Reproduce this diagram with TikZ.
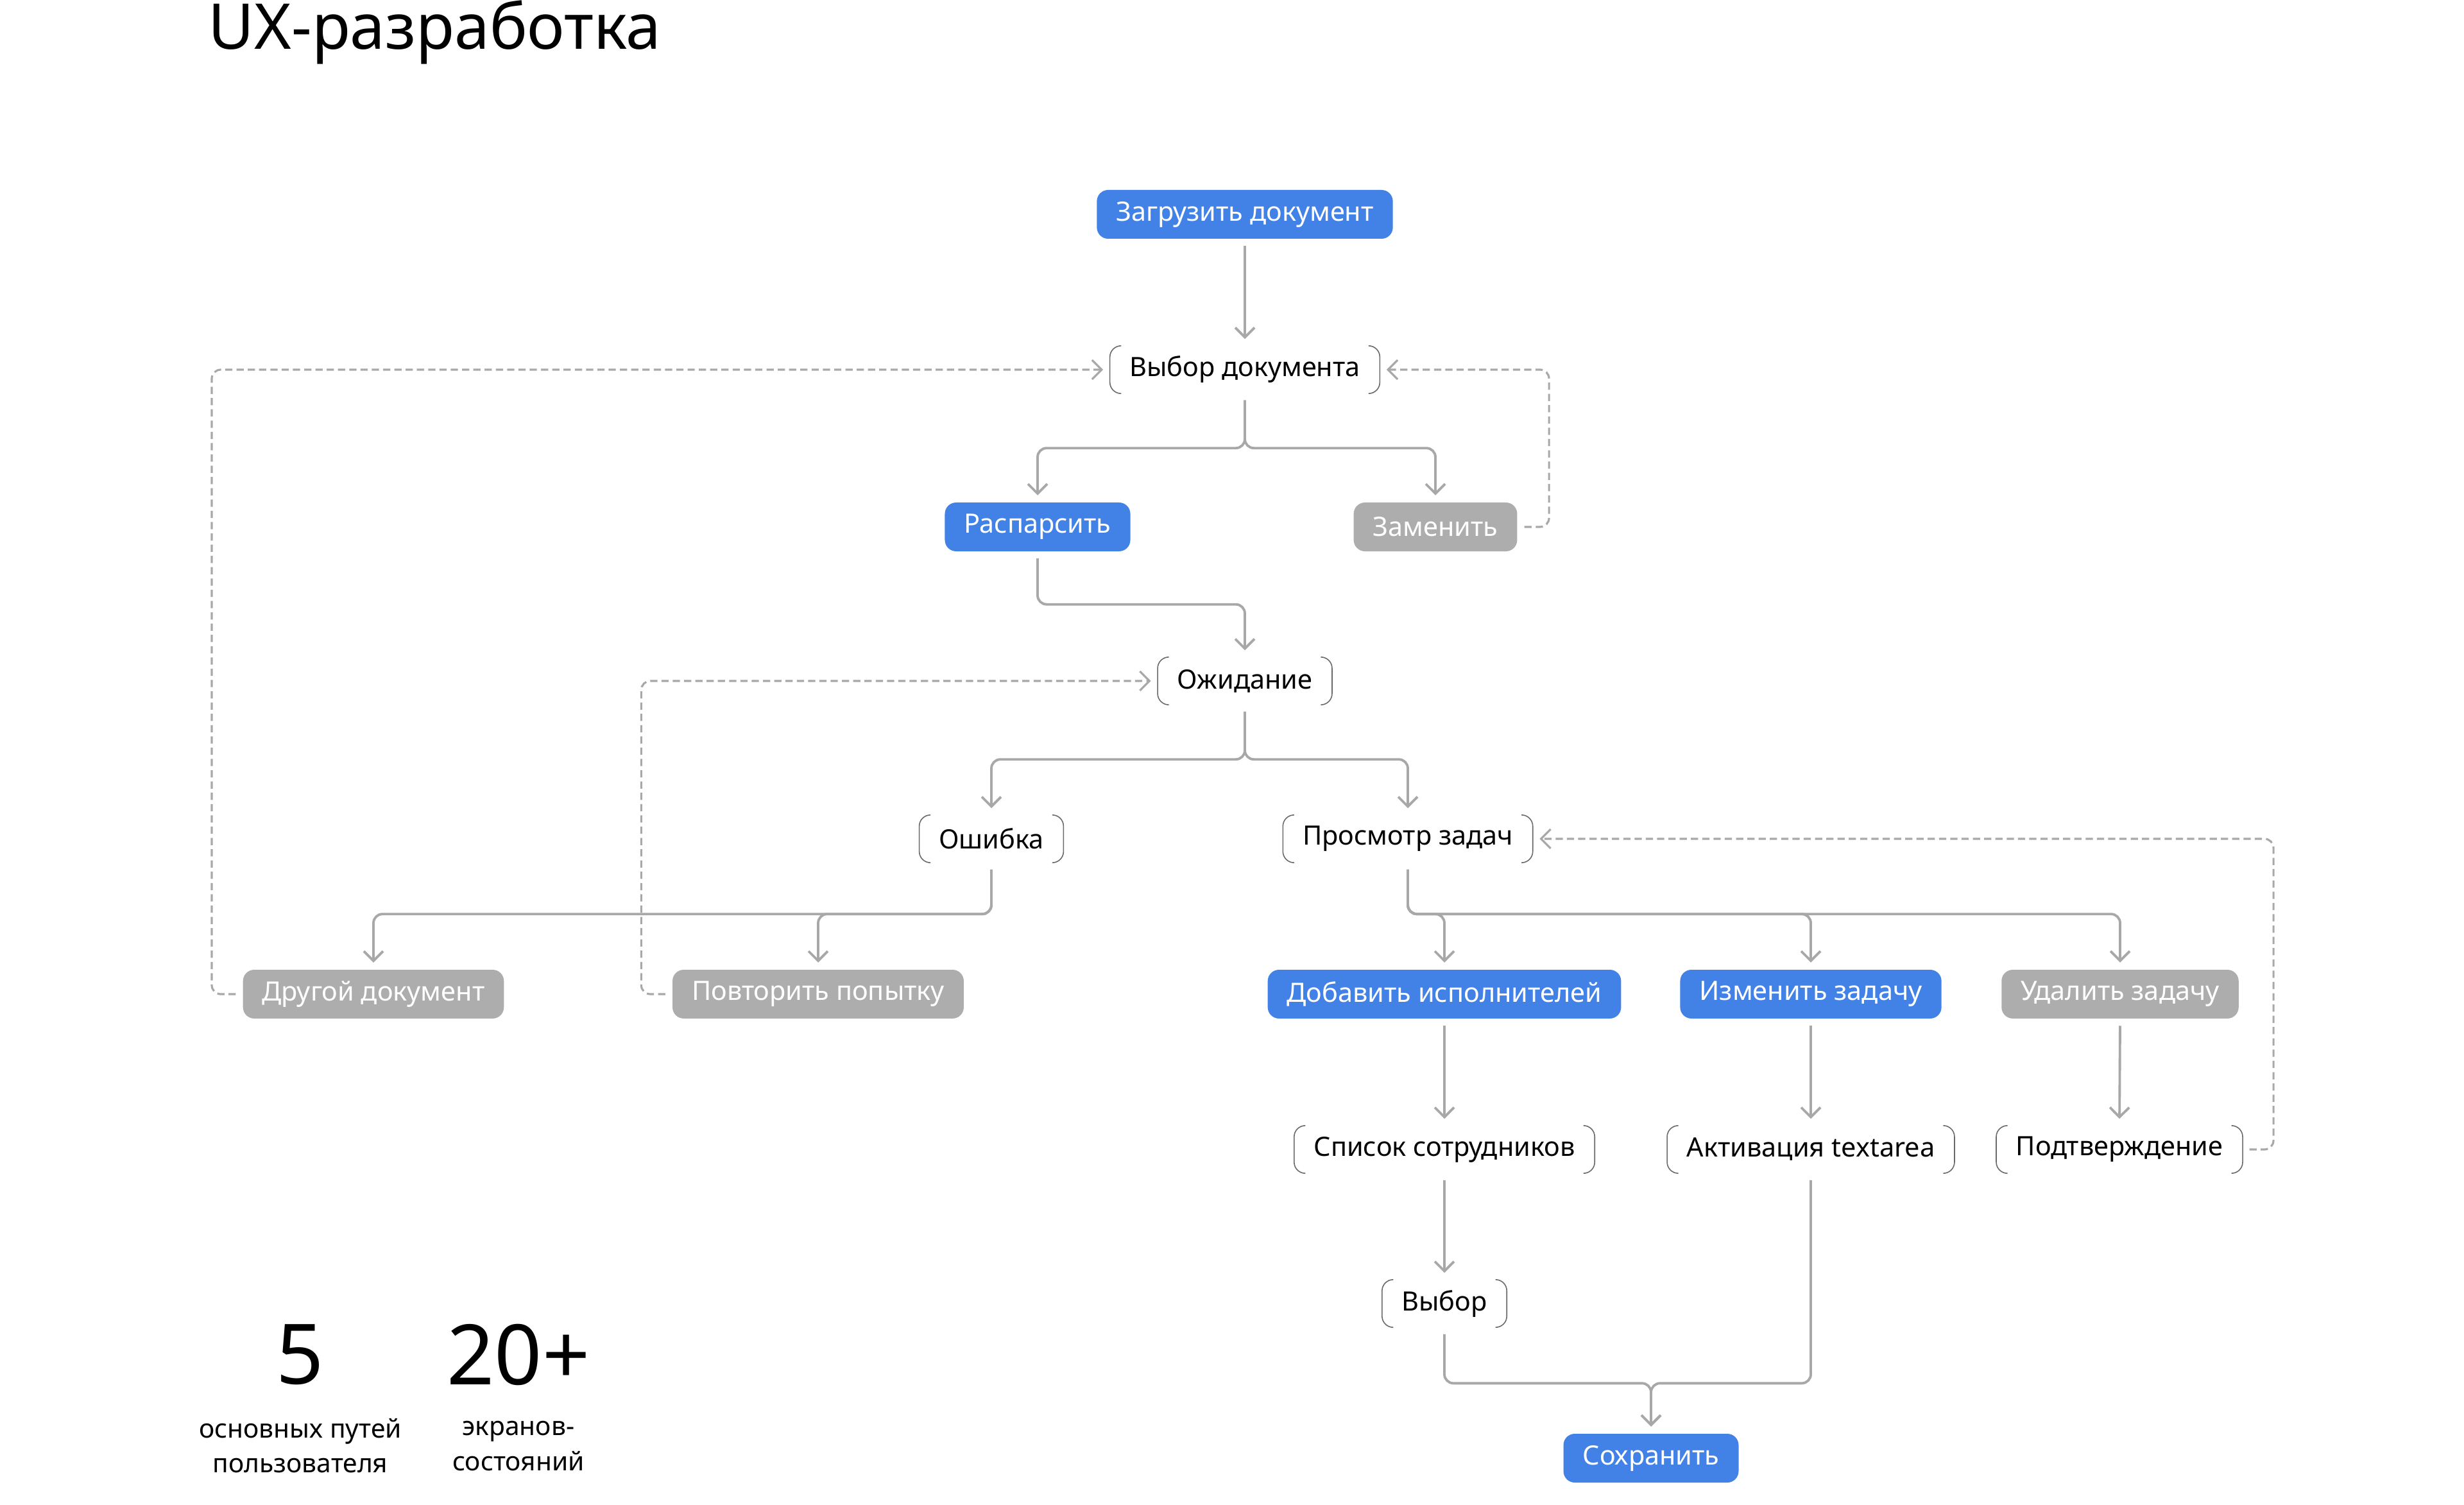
\documentclass[tikz,border=0pt]{standalone}
\usepackage{fontspec}
\setmainfont{Noto Sans}
\definecolor{actionblue}{RGB}{66, 130, 230}
\definecolor{altgray}{RGB}{173, 173, 173}
\definecolor{linegray}{RGB}{168, 168, 168}
\definecolor{sidegray}{RGB}{105, 105, 105}
\usepackage{tikz}
\usetikzlibrary{arrows.meta, calc}

\begin{document}
\begin{tikzpicture}[
  box/.style={rounded corners=5pt, minimum height=0.76cm, inner xsep=0.3cm, font=\fontsize{11.8}{14}\selectfont},
  action/.style={box, fill=actionblue, text=white},
  alt/.style={box, fill=altgray, text=white},
  state/.style={box, minimum height=0.73cm, text=black},
  side/.style={draw=sidegray, line width=0.45pt, rounded corners=5pt},
  link/.style={draw=linegray, line width=1.1pt, rounded corners=4pt, shorten >=3pt, shorten <=3pt, -{Straight Barb[length=0.15cm, width=0.3cm]}},
  back/.style={link, line width=0.9pt, dash pattern=on 3.2pt off 1.8pt}
]
  \useasboundingbox (0,0) rectangle (38.4,-23.45);

  \node[anchor=base west, inner sep=0, font=\fontsize{28}{30}\selectfont] (title) at (3.24,-0.77) {UX-разработка};

  \node[action] (load) at (19.40,-3.34) {Загрузить документ};
  \node[state] (choose) at (19.40,-5.76) {Выбор документа};
  \node[action] (parse) at (16.17,-8.21) {Распарсить};
  \node[alt] (replace) at (22.37,-8.21) {Заменить};
  \node[state] (wait) at (19.40,-10.61) {Ожидание};
  \node[state] (error) at (15.45,-13.07) {Ошибка};
  \node[state] (view) at (21.94,-13.07) {Просмотр задач};
  \node[alt] (other) at (5.82,-15.49) {Другой документ};
  \node[alt] (retry) at (12.75,-15.49) {Повторить попытку};
  \node[action] (assign) at (22.51,-15.49) {Добавить исполнителей};
  \node[action] (edit) at (28.22,-15.49) {Изменить задачу};
  \node[alt] (delete) at (33.04,-15.49) {Удалить задачу};
  \node[state] (staff) at (22.51,-17.91) {Список сотрудников};
  \node[state] (textarea) at (28.22,-17.91) {Активация textarea};
  \node[state] (confirm) at (33.03,-17.91) {Подтверждение};
  \node[state] (select) at (22.51,-20.31) {Выбор};
  \node[action] (save) at (25.73,-22.72) {Сохранить};

  \foreach \n in {choose, wait, error, view, staff, textarea, confirm, select}
    \draw[side] ([xshift=5pt]\n.north west) -- (\n.north west) -- (\n.south west) -- ([xshift=5pt]\n.south west)
                ([xshift=-5pt]\n.north east) -- (\n.north east) -- (\n.south east) -- ([xshift=-5pt]\n.south east);

  \draw[link] (load.south) -- (choose.north);
  \draw[link] (choose.south) -- ++(0,-0.85) -| (parse.north);
  \draw[link] (choose.south) -- ++(0,-0.85) -| (replace.north);
  \draw[link] (parse.south) -- ++(0,-0.82) -| (wait.north);
  \draw[link] (wait.south) -- ++(0,-0.85) -| (error.north);
  \draw[link] (wait.south) -- ++(0,-0.85) -| (view.north);
  \draw[link] (error.south) -- ++(0,-0.80) -| (other.north);
  \draw[link] (error.south) -- ++(0,-0.80) -| (retry.north);
  \draw[link] (view.south) -- ++(0,-0.80) -| (assign.north);
  \draw[link] (view.south) -- ++(0,-0.80) -| (edit.north);
  \draw[link] (view.south) -- ++(0,-0.80) -| (delete.north);
  \draw[link] (assign.south) -- (staff.north);
  \draw[link] (edit.south) -- (textarea.north);
  \draw[link] (delete.south) -- (confirm.north);
  \draw[link] (staff.south) -- (select.north);
  \coordinate (merge) at ($(save.north)+(0,0.78)$);
  \draw[link] (select.south) |- (merge) -- (save.north);
  \draw[link] (textarea.south) |- (merge) -- (save.north);

  \draw[back] (replace.east) -- ++(0.49,0) |- (choose.east);
  \draw[back] (other.west) -- ++(-0.48,0) |- (choose.west);
  \draw[back] (retry.west) -- ++(-0.48,0) |- (wait.west);
  \draw[back] (confirm.east) -- ++(0.48,0) |- (view.east);

  \node[font=\fontsize{37}{40}\selectfont] (pathsnum) at (4.68,-21.11) {5};
  \node[font=\fontsize{37}{40}\selectfont] (screensnum) at (8.08,-21.11) {20+};
  \node[align=center, font=\fontsize{11.6}{15.4}\selectfont] (pathstext) at (4.68,-22.53) {основных путей\\пользователя};
  \node[align=center, font=\fontsize{11.6}{15.4}\selectfont] (screenstext) at (8.08,-22.53) {экранов-\\состояний};
\end{tikzpicture}
\end{document}
